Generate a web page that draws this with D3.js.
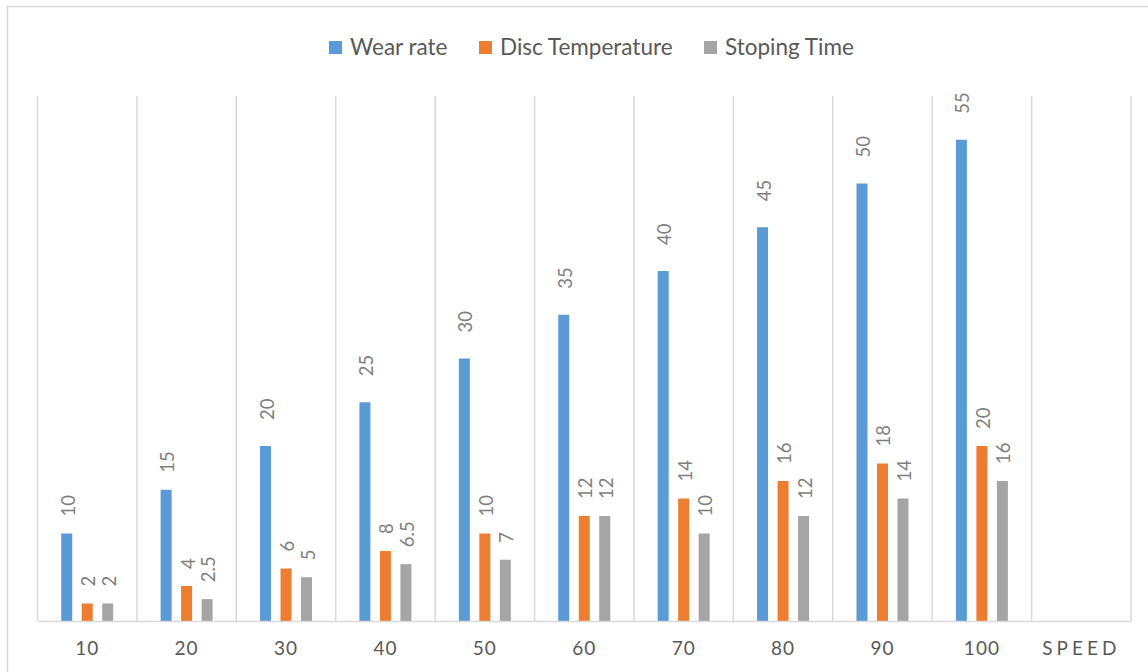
<!DOCTYPE html>
<html><head><meta charset="utf-8">
<script src="https://cdn.jsdelivr.net/npm/d3@7"></script>
<style>body{margin:0;background:#fff}svg{display:block}</style>
</head><body><svg id="c" width="1148" height="672"></svg>
<script>
const categories = ["10","20","30","40","50","60","70","80","90","100","SPEED"];
const seriesNames = ["Wear rate","Disc Temperature","Stoping Time"];
const wearRate = [10,15,20,25,30,35,40,45,50,55,null];
const discTemp = [2,4,6,8,10,12,14,16,18,20,null];
const stopTime = [2,2.5,5,6.5,7,12,10,12,14,16,null];
const colors = ["#5b9bd5","#ed7d31","#a5a5a5"];
const yMax = 60;

const svg = d3.select("#c");
const font = "Lato, sans-serif";
// outer border
svg.append("rect").attr("x",7.5).attr("y",6.5).attr("width",1160).attr("height",700)
  .attr("fill","none").attr("stroke","#d9d9d9").attr("stroke-width",1.5);

const x = d3.scaleBand().domain(categories).range([37.5,1131]).paddingInner(0).paddingOuter(0);
const y = d3.scaleLinear().domain([0,yMax]).range([621,96]);
const groupW = 52;
const xs = d3.scaleBand().domain(seriesNames).range([0, groupW]).paddingInner(0.463).paddingOuter(0);
const offset = (x.bandwidth()-groupW)/2;

// gridlines
const g = svg.append("g");
g.selectAll("line.grid").data(d3.range(categories.length+1)).join("line")
  .attr("x1",i=>37.5+i*x.step()).attr("x2",i=>37.5+i*x.step())
  .attr("y1",y(yMax)).attr("y2",y(0)).attr("stroke","#d9d9d9").attr("stroke-width",1.5);

const data = [wearRate,discTemp,stopTime];
data.forEach((arr,si)=>{
  const pts = categories.map((c,i)=>({c,v:arr[i]})).filter(d=>d.v!=null);
  const bx = d=> x(d.c)+offset+xs(seriesNames[si]);
  const gap = d => (si===0 && d.v>=20) ? 26 : 17;
  svg.append("g").selectAll("rect").data(pts).join("rect")
    .attr("x",bx).attr("width",xs.bandwidth())
    .attr("y",d=>y(d.v)).attr("height",d=>y(0)-y(d.v)).attr("fill",colors[si]);
  svg.append("g").selectAll("text").data(pts).join("text")
    .attr("transform",d=>`translate(${bx(d)+xs.bandwidth()/2+1.5},${y(d.v)-gap(d)}) rotate(-90)`)
    .attr("dy","0.35em").attr("text-anchor","start")
    .attr("font-family",font).attr("font-size",18.5).attr("fill","#7f7f7f")
    .text(d=>d.v);
});

// x axis
const ax = svg.append("g").attr("transform",`translate(0,${y(0)})`)
  .call(d3.axisBottom(x).tickSize(0).tickPadding(21));
ax.select(".domain").attr("stroke","#d9d9d9").attr("stroke-width",1.5);
ax.selectAll("text").attr("font-family",font).attr("font-size",19).attr("fill","#595959")
  .attr("letter-spacing",d=>d==="SPEED"?"4px":"1px");

// legend
const legendX = [329,479,704];
const lg = svg.append("g");
seriesNames.forEach((n,i)=>{
  lg.append("rect").attr("x",legendX[i]).attr("y",41).attr("width",13).attr("height",13).attr("fill",colors[i]);
  lg.append("text").attr("x",legendX[i]+21).attr("y",47.5).attr("dy","0.35em")
    .attr("font-family",font).attr("font-size",22.5).attr("fill","#595959").text(n);
});
</script></body></html>
